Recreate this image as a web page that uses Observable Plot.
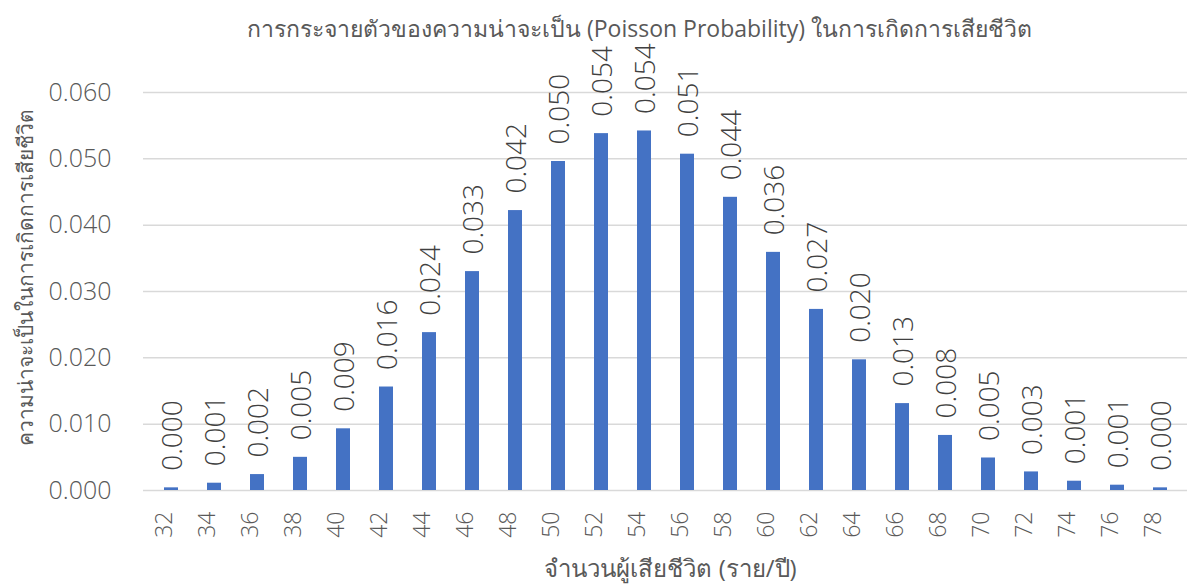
<!DOCTYPE html>
<html>
<head>
<meta charset="utf-8">
<script src="https://cdn.jsdelivr.net/npm/d3@7"></script>
<script src="https://cdn.jsdelivr.net/npm/@observablehq/plot@0.6"></script>
<style>
  body { margin: 0; background: #fff; }
  #chart svg { overflow: visible; }
</style>
</head>
<body>
<div id="chart"></div>
<script>
const categories = ["32","34","36","38","40","42","44","46","48","50","52","54","56","58","60","62","64","66","68","70","72","74","76","78"];
const probabilities = [0.0004,0.0011,0.0024,0.0050,0.0093,0.0156,0.0238,0.0330,0.0422,0.0496,0.0538,0.0542,0.0507,0.0442,0.0359,0.0273,0.0197,0.0131,0.0083,0.0049,0.0028,0.0014,0.0008,0.0004];
const yTicks = [0, 0.01, 0.02, 0.03, 0.04, 0.05, 0.06];
const titleText = "การกระจายตัวของความน่าจะเป็น (Poisson Probability) ในการเกิดการเสียชีวิต";
const xLabel = "จำนวนผู้เสียชีวิต (ราย/ปี)";
const yLabel = "ความน่าจะเป็นในการเกิดการเสียชีวิต";

const data = categories.map((c, i) => ({cat: c, p: probabilities[i]}));
const fmt = d3.format(".3f");
const FONT = "'Open Sans', 'Noto Sans', sans-serif";

const chart = Plot.plot({
  width: 1187,
  height: 585,
  marginLeft: 143,
  marginRight: 0,
  marginTop: 92,
  marginBottom: 95,
  style: {fontFamily: FONT, background: "#fff", overflow: "visible"},
  x: {type: "band", domain: categories, paddingInner: 0.68, paddingOuter: 0.34, axis: null},
  y: {domain: [0, 0.06], axis: null},
  marks: [
    Plot.ruleY(yTicks, {stroke: "#d9d9d9", strokeWidth: 1.5}),
    Plot.barY(data, {x: "cat", y: "p", fill: "#4472C4"}),
    Plot.text(data, {x: "cat", y: "p", text: d => fmt(d.p), rotate: -90, textAnchor: "start", dy: -17, dx: 2, fontSize: 28, fontWeight: 300, fill: "#404040"}),
    Plot.text(categories, {x: d => d, frameAnchor: "bottom", text: d => d, rotate: -90, textAnchor: "end", dy: 21, fontSize: 23, fontWeight: 300, fill: "#595959"}),
    Plot.text(yTicks, {y: d => d, frameAnchor: "left", text: d => fmt(d), textAnchor: "end", dx: -32, fontSize: 25, fontWeight: 300, fill: "#595959"}),
    Plot.text([titleText], {frameAnchor: "top", text: d => d, textAnchor: "middle", dy: -72, dx: -26, fontSize: 23, fill: "#595959"}),
    Plot.text([xLabel], {frameAnchor: "bottom", text: d => d, textAnchor: "middle", dy: 86, dx: 5, fontSize: 24, fill: "#595959"}),
    Plot.text([yLabel], {frameAnchor: "left", text: d => d, textAnchor: "middle", rotate: -90, dx: -117, dy: -14, fontSize: 21, fill: "#595959"})
  ]
});
document.getElementById("chart").appendChild(chart);
</script>
</body>
</html>
